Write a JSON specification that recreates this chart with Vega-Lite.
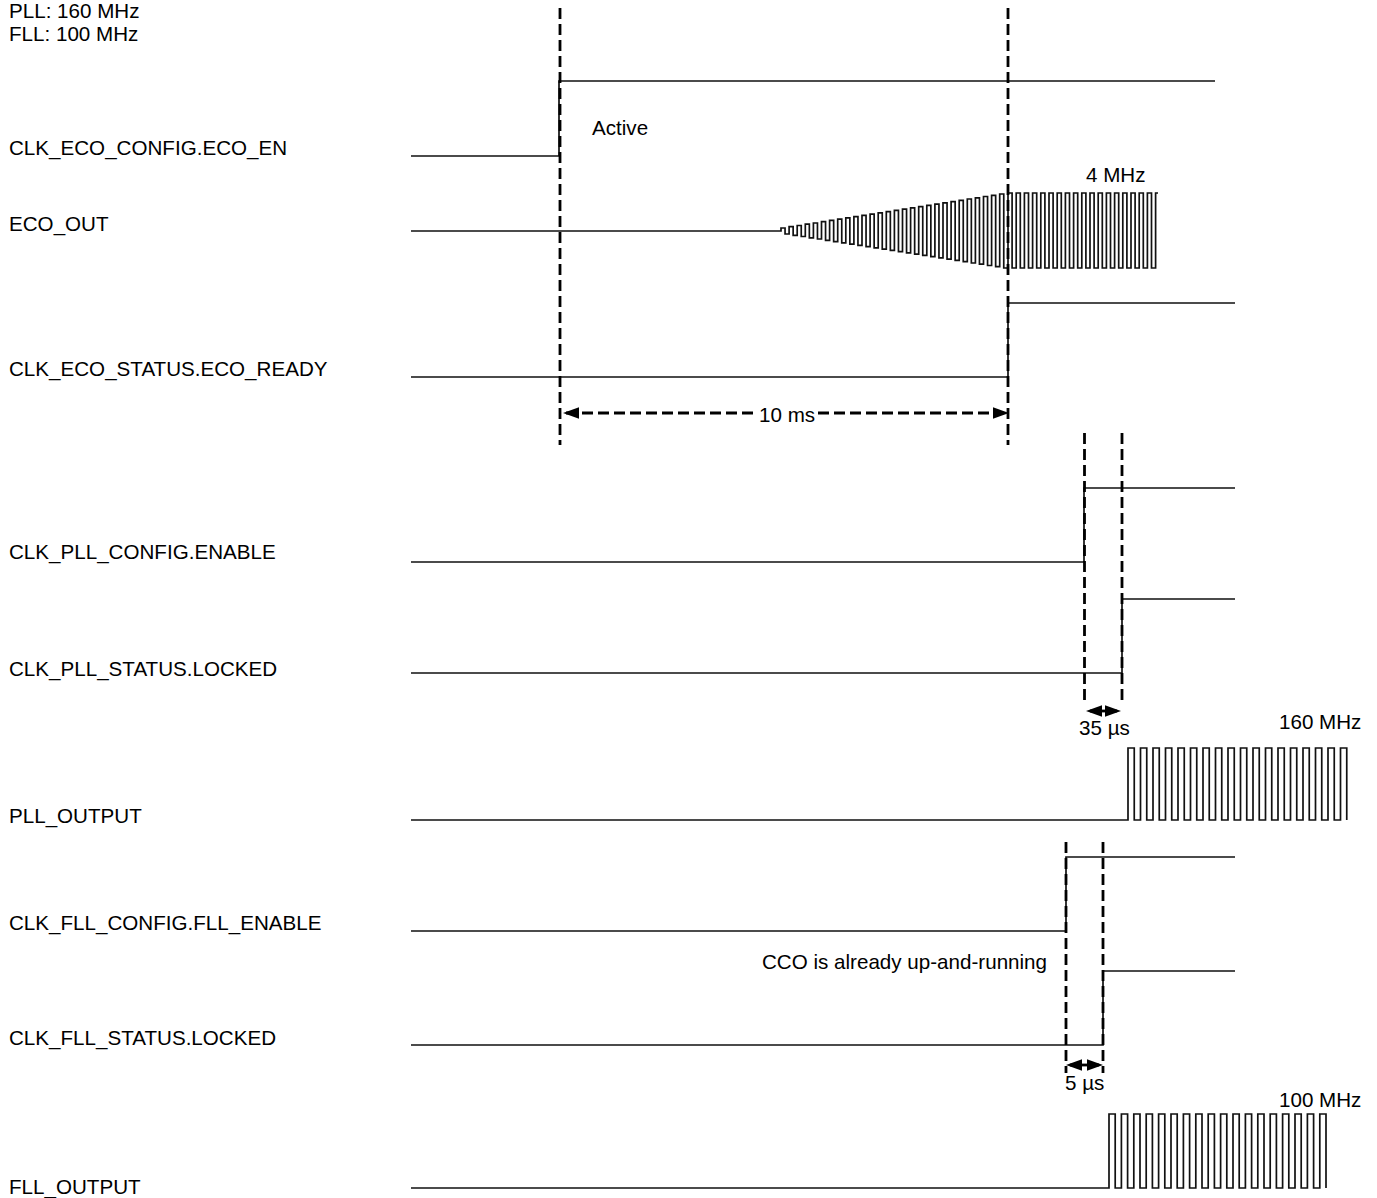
{
"$schema": "https://vega.github.io/schema/vega-lite/v6.json",
"width": 1377, "height": 1198, "padding": 0,
"autosize": {"type": "none"},
"background": "white",
"config": {"view": {"stroke": null}},
"datasets": {
"signals": [
{"s":"ecoen","x":411,"y":156},{"s":"ecoen","x":559,"y":81},{"s":"ecoen","x":1215,"y":81},
{"s":"ecordy","x":411,"y":377},{"s":"ecordy","x":1008,"y":303},{"s":"ecordy","x":1235,"y":303},
{"s":"pllen","x":411,"y":562},{"s":"pllen","x":1084,"y":488},{"s":"pllen","x":1235,"y":488},
{"s":"plllk","x":411,"y":673},{"s":"plllk","x":1122,"y":599},{"s":"plllk","x":1235,"y":599},
{"s":"fllen","x":411,"y":931},{"s":"fllen","x":1066,"y":857},{"s":"fllen","x":1235,"y":857},
{"s":"flllk","x":411,"y":1045},{"s":"flllk","x":1103,"y":971},{"s":"flllk","x":1235,"y":971},
{"s":"eco","x":411,"y":231},
{"s":"eco","x":781,"y":228},{"s":"eco","x":785.05,"y":234},{"s":"eco","x":789.1,"y":226.7},{"s":"eco","x":793.15,"y":235.3},
{"s":"eco","x":797.2,"y":225.5},{"s":"eco","x":801.25,"y":236.5},{"s":"eco","x":805.3,"y":224.2},{"s":"eco","x":809.35,"y":237.8},
{"s":"eco","x":813.4,"y":223},{"s":"eco","x":817.45,"y":239},{"s":"eco","x":821.5,"y":221.7},{"s":"eco","x":825.55,"y":240.3},
{"s":"eco","x":829.6,"y":220.4},{"s":"eco","x":833.65,"y":241.6},{"s":"eco","x":837.7,"y":219.2},{"s":"eco","x":841.75,"y":242.8},
{"s":"eco","x":845.8,"y":217.9},{"s":"eco","x":849.85,"y":244.1},{"s":"eco","x":853.9,"y":216.7},{"s":"eco","x":857.95,"y":245.3},
{"s":"eco","x":862,"y":215.4},{"s":"eco","x":866.05,"y":246.6},{"s":"eco","x":870.1,"y":214.2},{"s":"eco","x":874.15,"y":247.9},
{"s":"eco","x":878.2,"y":212.9},{"s":"eco","x":882.25,"y":249.1},{"s":"eco","x":886.3,"y":211.6},{"s":"eco","x":890.35,"y":250.4},
{"s":"eco","x":894.4,"y":210.4},{"s":"eco","x":898.45,"y":251.6},{"s":"eco","x":902.5,"y":209.1},{"s":"eco","x":906.55,"y":252.9},
{"s":"eco","x":910.6,"y":207.9},{"s":"eco","x":914.65,"y":254.1},{"s":"eco","x":918.7,"y":206.6},{"s":"eco","x":922.75,"y":255.4},
{"s":"eco","x":926.8,"y":205.3},{"s":"eco","x":930.85,"y":256.7},{"s":"eco","x":934.9,"y":204.1},{"s":"eco","x":938.95,"y":257.9},
{"s":"eco","x":943,"y":202.8},{"s":"eco","x":947.05,"y":259.2},{"s":"eco","x":951.1,"y":201.6},{"s":"eco","x":955.15,"y":260.4},
{"s":"eco","x":959.2,"y":200.3},{"s":"eco","x":963.25,"y":261.7},{"s":"eco","x":967.3,"y":199},{"s":"eco","x":971.35,"y":263},
{"s":"eco","x":975.4,"y":197.8},{"s":"eco","x":979.45,"y":264.2},{"s":"eco","x":983.5,"y":196.5},{"s":"eco","x":987.55,"y":265.5},
{"s":"eco","x":991.6,"y":195.3},{"s":"eco","x":995.65,"y":266.7},{"s":"eco","x":999.7,"y":194},{"s":"eco","x":1003.75,"y":268},
{"s":"eco","x":1008,"y":193},{"s":"eco","x":1012.1,"y":268},{"s":"eco","x":1016.2,"y":193},{"s":"eco","x":1020.3,"y":268},
{"s":"eco","x":1024.4,"y":193},{"s":"eco","x":1028.5,"y":268},{"s":"eco","x":1032.6,"y":193},{"s":"eco","x":1036.7,"y":268},
{"s":"eco","x":1040.8,"y":193},{"s":"eco","x":1044.9,"y":268},{"s":"eco","x":1049,"y":193},{"s":"eco","x":1053.1,"y":268},
{"s":"eco","x":1057.2,"y":193},{"s":"eco","x":1061.3,"y":268},{"s":"eco","x":1065.4,"y":193},{"s":"eco","x":1069.5,"y":268},
{"s":"eco","x":1073.6,"y":193},{"s":"eco","x":1077.7,"y":268},{"s":"eco","x":1081.8,"y":193},{"s":"eco","x":1085.9,"y":268},
{"s":"eco","x":1090,"y":193},{"s":"eco","x":1094.1,"y":268},{"s":"eco","x":1098.2,"y":193},{"s":"eco","x":1102.3,"y":268},
{"s":"eco","x":1106.4,"y":193},{"s":"eco","x":1110.5,"y":268},{"s":"eco","x":1114.6,"y":193},{"s":"eco","x":1118.7,"y":268},
{"s":"eco","x":1122.8,"y":193},{"s":"eco","x":1126.9,"y":268},{"s":"eco","x":1131,"y":193},{"s":"eco","x":1135.1,"y":268},
{"s":"eco","x":1139.2,"y":193},{"s":"eco","x":1143.3,"y":268},{"s":"eco","x":1147.4,"y":193},{"s":"eco","x":1151.5,"y":268},
{"s":"eco","x":1155.6,"y":193},{"s":"eco","x":1158,"y":193},
{"s":"pll","x":411,"y":820},
{"s":"pll","x":1128,"y":748},{"s":"pll","x":1134.25,"y":820},{"s":"pll","x":1140.5,"y":748},{"s":"pll","x":1146.75,"y":820},
{"s":"pll","x":1153,"y":748},{"s":"pll","x":1159.25,"y":820},{"s":"pll","x":1165.5,"y":748},{"s":"pll","x":1171.75,"y":820},
{"s":"pll","x":1178,"y":748},{"s":"pll","x":1184.25,"y":820},{"s":"pll","x":1190.5,"y":748},{"s":"pll","x":1196.75,"y":820},
{"s":"pll","x":1203,"y":748},{"s":"pll","x":1209.25,"y":820},{"s":"pll","x":1215.5,"y":748},{"s":"pll","x":1221.75,"y":820},
{"s":"pll","x":1228,"y":748},{"s":"pll","x":1234.25,"y":820},{"s":"pll","x":1240.5,"y":748},{"s":"pll","x":1246.75,"y":820},
{"s":"pll","x":1253,"y":748},{"s":"pll","x":1259.25,"y":820},{"s":"pll","x":1265.5,"y":748},{"s":"pll","x":1271.75,"y":820},
{"s":"pll","x":1278,"y":748},{"s":"pll","x":1284.25,"y":820},{"s":"pll","x":1290.5,"y":748},{"s":"pll","x":1296.75,"y":820},
{"s":"pll","x":1303,"y":748},{"s":"pll","x":1309.25,"y":820},{"s":"pll","x":1315.5,"y":748},{"s":"pll","x":1321.75,"y":820},
{"s":"pll","x":1328,"y":748},{"s":"pll","x":1334.25,"y":820},{"s":"pll","x":1340.5,"y":748},{"s":"pll","x":1346.75,"y":820},
{"s":"fll","x":411,"y":1188},
{"s":"fll","x":1109,"y":1114},{"s":"fll","x":1115.2,"y":1188},{"s":"fll","x":1121.4,"y":1114},{"s":"fll","x":1127.6,"y":1188},
{"s":"fll","x":1133.8,"y":1114},{"s":"fll","x":1140,"y":1188},{"s":"fll","x":1146.2,"y":1114},{"s":"fll","x":1152.4,"y":1188},
{"s":"fll","x":1158.6,"y":1114},{"s":"fll","x":1164.8,"y":1188},{"s":"fll","x":1171,"y":1114},{"s":"fll","x":1177.2,"y":1188},
{"s":"fll","x":1183.4,"y":1114},{"s":"fll","x":1189.6,"y":1188},{"s":"fll","x":1195.8,"y":1114},{"s":"fll","x":1202,"y":1188},
{"s":"fll","x":1208.2,"y":1114},{"s":"fll","x":1214.4,"y":1188},{"s":"fll","x":1220.6,"y":1114},{"s":"fll","x":1226.8,"y":1188},
{"s":"fll","x":1233,"y":1114},{"s":"fll","x":1239.2,"y":1188},{"s":"fll","x":1245.4,"y":1114},{"s":"fll","x":1251.6,"y":1188},
{"s":"fll","x":1257.8,"y":1114},{"s":"fll","x":1264,"y":1188},{"s":"fll","x":1270.2,"y":1114},{"s":"fll","x":1276.4,"y":1188},
{"s":"fll","x":1282.6,"y":1114},{"s":"fll","x":1288.8,"y":1188},{"s":"fll","x":1295,"y":1114},{"s":"fll","x":1301.2,"y":1188},
{"s":"fll","x":1307.4,"y":1114},{"s":"fll","x":1313.6,"y":1188},{"s":"fll","x":1319.8,"y":1114},{"s":"fll","x":1326,"y":1188}
],
"vdash": [
{"x":560,"y":8,"y2":445},{"x":1008,"y":8,"y2":445},
{"x":1084.5,"y":433,"y2":705},{"x":1122,"y":433,"y2":705},
{"x":1066,"y":842,"y2":1073},{"x":1103,"y":842,"y2":1073}
],
"hdash": [
{"x":566,"x2":757,"y":413},{"x":818,"x2":1002,"y":413}
],
"hsolid": [
{"x":1090,"x2":1117,"y":711},{"x":1070,"x2":1099,"y":1065}
],
"heads": [
{"x":571,"y":413,"d":"L"},{"x":1001,"y":413,"d":"R"},
{"x":1094,"y":711,"d":"L"},{"x":1113,"y":711,"d":"R"},
{"x":1074,"y":1065,"d":"L"},{"x":1095,"y":1065,"d":"R"}
],
"labels": [
{"x":9,"y":17.5,"t":"PLL: 160 MHz"},
{"x":9,"y":41,"t":"FLL: 100 MHz"},
{"x":9,"y":155,"t":"CLK_ECO_CONFIG.ECO_EN"},
{"x":9,"y":230.7,"t":"ECO_OUT"},
{"x":9,"y":376,"t":"CLK_ECO_STATUS.ECO_READY"},
{"x":9,"y":559,"t":"CLK_PLL_CONFIG.ENABLE"},
{"x":9,"y":676,"t":"CLK_PLL_STATUS.LOCKED"},
{"x":9,"y":823,"t":"PLL_OUTPUT"},
{"x":9,"y":930,"t":"CLK_FLL_CONFIG.FLL_ENABLE"},
{"x":9,"y":1045,"t":"CLK_FLL_STATUS.LOCKED"},
{"x":9,"y":1194,"t":"FLL_OUTPUT"},
{"x":592,"y":135,"t":"Active"},
{"x":1086,"y":181.7,"t":"4 MHz"},
{"x":759,"y":421.5,"t":"10 ms"},
{"x":1079,"y":735,"t":"35 µs"},
{"x":1279,"y":728.5,"t":"160 MHz"},
{"x":1065,"y":1090,"t":"5 µs"},
{"x":1279,"y":1106.5,"t":"100 MHz"},
{"x":762,"y":969,"t":"CCO is already up-and-running"}
]
},
"encoding": {
"x": {"field":"x","type":"quantitative","scale":{"domain":[0,1377],"nice":false,"zero":false},"axis":null},
"y": {"field":"y","type":"quantitative","scale":{"domain":[0,1198],"reverse":true,"nice":false,"zero":false},"axis":null}
},
"layer": [
{"data":{"name":"signals"},"mark":{"type":"line","interpolate":"step-after","strokeWidth":1.7,"color":"#111111"},
 "encoding":{"detail":{"field":"s","type":"nominal"}}},
{"data":{"name":"vdash"},"mark":{"type":"rule","strokeDash":[11,5],"strokeWidth":2.8,"color":"#000000"},
 "encoding":{"y2":{"field":"y2"}}},
{"data":{"name":"hdash"},"mark":{"type":"rule","strokeDash":[11,5],"strokeWidth":2.8,"color":"#000000"},
 "encoding":{"x2":{"field":"x2"}}},
{"data":{"name":"hsolid"},"mark":{"type":"rule","strokeWidth":2.8,"color":"#000000"},
 "encoding":{"x2":{"field":"x2"}}},
{"data":{"name":"heads"},"mark":{"type":"point","filled":true,"opacity":1,"size":256,"color":"#000000","strokeWidth":0},
 "encoding":{"shape":{"field":"d","type":"nominal","scale":{"domain":["L","R"],"range":["M-1,0L1,-0.72L1,0.72Z","M1,0L-1,-0.72L-1,0.72Z"]},"legend":null}}},
{"data":{"name":"labels"},"mark":{"type":"text","align":"left","baseline":"alphabetic","font":"Liberation Sans","fontSize":20.6,"color":"#000000"},
 "encoding":{"text":{"field":"t","type":"nominal"}}}
]
}
